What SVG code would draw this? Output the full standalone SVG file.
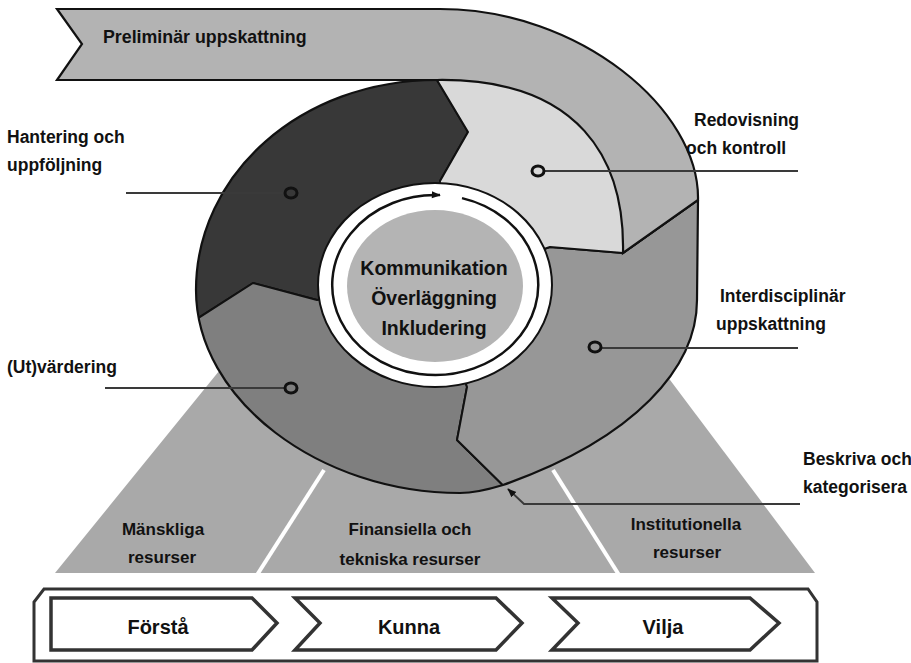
<svg xmlns="http://www.w3.org/2000/svg" width="911" height="663" viewBox="0 0 911 663">
<style>
  text { font-family: "Liberation Sans", Arial, sans-serif; font-weight: bold; fill: #111; }
  .lbl { font-size: 17.5px; }
  .ban { font-size: 17.8px; }
  .ctr { font-size: 19.5px; text-anchor: middle; }
  .res { font-size: 17px; text-anchor: middle; }
  .step { font-size: 20px; text-anchor: middle; }
  .seg { stroke: #111; stroke-width: 2; stroke-linejoin: round; }
  .lead { stroke: #3a3a3a; stroke-width: 2; fill: none; }
  .dot { fill: none; stroke: #111; stroke-width: 3; }
  .chev { fill: #fff; stroke: #333; stroke-width: 3.5; stroke-linejoin: miter; }
  .divider { stroke: #fff; stroke-width: 4; }
</style>
<defs>
  <clipPath id="ringClip">
    <path d="M437,80 C300,80 196,175 196,290 C196,400 320,493 460,493 C475,493 490,489 503,485 C636,438 697,367 697,300 L698,200 L623,253 C625,160 580,78 437,80 Z"/>
  </clipPath>
  <marker id="arrSmall" viewBox="0 0 10 10" refX="9" refY="5" markerWidth="9" markerHeight="9" markerUnits="userSpaceOnUse" orient="auto">
    <path d="M0,1 L10,5 L0,9 Z" fill="#111"/>
  </marker>
  <marker id="arrCycle" viewBox="0 0 10 10" refX="9" refY="5" markerWidth="11" markerHeight="9" markerUnits="userSpaceOnUse" orient="auto">
    <path d="M0,1 L10,5 L0,9 Z" fill="#111"/>
  </marker>
</defs>
<rect width="911" height="663" fill="#fff"/>

<g id="resources">
  <polygon points="228,360 655,360 815,573 55,573" fill="#a9a9a9"/>
  <line class="divider" x1="324" y1="470" x2="257" y2="575"/>
  <line class="divider" x1="553" y1="470" x2="619" y2="575"/>
  <text class="res" x="163" y="535">Mänskliga</text>
  <text class="res" x="162" y="563">resurser</text>
  <text class="res" x="410" y="535">Finansiella och</text>
  <text class="res" x="410" y="565">tekniska resurser</text>
  <text class="res" x="686" y="530">Institutionella</text>
  <text class="res" x="687" y="558">resurser</text>
</g>

<g id="cycle" clip-path="url(#ringClip)">
  <path id="seg-hantering" class="seg" fill="#383838" d="M425,60 L150,60 L150,349 L253,283 L317,300 L435,285 L440,181 L468,132 Z"/>
  <path id="seg-utvardering" class="seg" fill="#7f7f7f" d="M150,349 L253,283 L317,300 L435,285 L467,387 L457,440 L523,505 L150,540 Z"/>
  <path id="seg-interdisciplinar" class="seg" fill="#979797" d="M435,285 L550,247 L623,253 L725,181 L760,181 L760,540 L523,540 L523,505 L457,440 L467,387 Z"/>
  <path id="seg-redovisning" class="seg" fill="#d9d9d9" d="M435,285 L440,181 L468,132 L425,60 L760,60 L760,181 L725,181 L623,253 L550,247 Z"/>
</g>
<path id="ring-outline" fill="none" stroke="#111" stroke-width="2.2" d="M437,80 C300,80 196,175 196,290 C196,400 320,493 460,493 C475,493 490,489 503,485 C636,438 697,367 697,300 L698,200"/>

<g id="banner">
  <path fill="#b3b3b3" stroke="#111" stroke-width="2.2" stroke-linejoin="miter" d="M57,9 L440,9 C580,9 700,110 698,200 L623,253 C625,160 580,78 437,80 L57,80 L82,44 Z"/>
  <text class="ban" x="103" y="43">Preliminär uppskattning</text>
</g>

<g id="center">
  <ellipse cx="435" cy="285" rx="117" ry="102" fill="#fff" stroke="#111" stroke-width="2"/>
  <path d="M462,198.1 A103,90 0 1 1 440,195.1" fill="none" stroke="#111" stroke-width="2.5" marker-end="url(#arrCycle)"/>
  <ellipse cx="435" cy="286" rx="88" ry="76" fill="#b4b4b4"/>
  <text class="ctr" x="434" y="275">Kommunikation</text>
  <text class="ctr" x="434" y="305">Överläggning</text>
  <text class="ctr" x="434" y="335">Inkludering</text>
</g>

<g id="connectors">
  <line class="lead" x1="126" y1="193" x2="285" y2="193"/>
  <ellipse class="dot" cx="291" cy="193" rx="6" ry="5"/>
  <line class="lead" x1="544" y1="171" x2="798" y2="171"/>
  <ellipse class="dot" cx="538" cy="171" rx="6" ry="5"/>
  <line class="lead" x1="601" y1="348" x2="798" y2="348"/>
  <ellipse class="dot" cx="595" cy="347" rx="6" ry="5"/>
  <line class="lead" x1="105" y1="388" x2="285" y2="388"/>
  <ellipse class="dot" cx="291" cy="388" rx="6" ry="5"/>
  <path class="lead" d="M800,504 L524,504 L508,489" marker-end="url(#arrSmall)"/>
</g>

<g id="labels">
  <text class="lbl" x="7" y="143">Hantering och</text>
  <text class="lbl" x="7" y="171">uppföljning</text>
  <text class="lbl" x="694" y="126">Redovisning</text>
  <text class="lbl" x="686" y="154">och kontroll</text>
  <text class="lbl" x="720" y="302">Interdisciplinär</text>
  <text class="lbl" x="716" y="330">uppskattning</text>
  <text class="lbl" x="7" y="373">(Ut)värdering</text>
  <text class="lbl" x="803" y="465">Beskriva och</text>
  <text class="lbl" x="803" y="493">kategorisera</text>
</g>

<g id="process">
  <path fill="#fff" stroke="#333" stroke-width="3" d="M34,661 L34,602 L44,589 L808,589 L817,602 L817,661 Z"/>
  <g id="step-forsta">
    <polygon class="chev" points="51,598 252,598 277,623 252,650 51,650"/>
    <text class="step" x="158" y="634">Förstå</text>
  </g>
  <g id="step-kunna">
    <polygon class="chev" points="295,598 496,598 522,623 496,650 295,650 320,623"/>
    <text class="step" x="409" y="634">Kunna</text>
  </g>
  <g id="step-vilja">
    <polygon class="chev" points="552,598 750,598 779,623 750,650 552,650 578,623"/>
    <text class="step" x="663" y="634">Vilja</text>
  </g>
</g>
</svg>
